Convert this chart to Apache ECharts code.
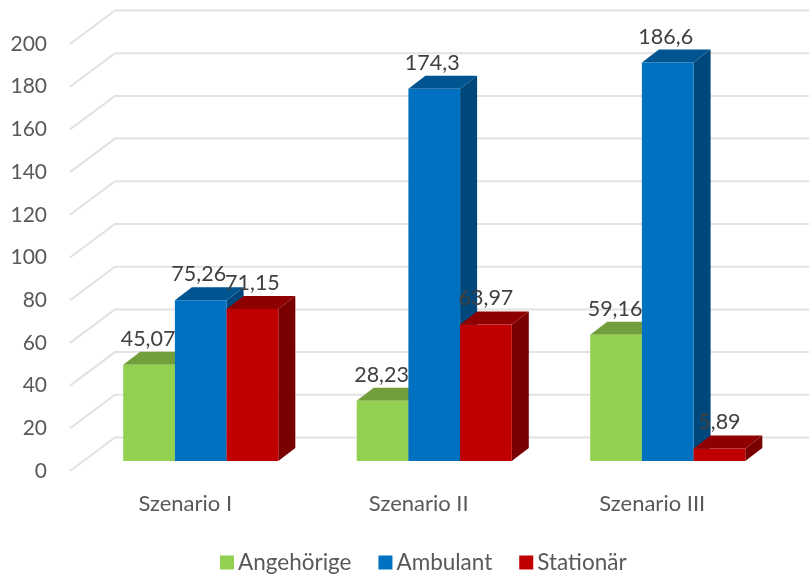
<!DOCTYPE html>
<html><head><meta charset="utf-8">
<style>html,body{margin:0;padding:0;background:#fff}#c{width:809px;height:575px}</style>
<script src="https://cdn.jsdelivr.net/npm/echarts@6/dist/echarts.min.js"></script>
</head><body><div id="c"></div>
<script>
const categories = ['Szenario I', 'Szenario II', 'Szenario III'];
const angehoerige = [45.07, 28.23, 59.16];
const ambulant = [75.26, 174.3, 186.6];
const stationaer = [71.15, 63.97, 5.89];
const gridTicks = [0, 20, 40, 60, 80, 100, 120, 140, 160, 180, 200];

const FONT = 'Lato';
const DX = 17, DY = 13, BAR = 0.2214;
const labelShift = [-1, -2, 0];

function barSeries(name, values, idx, front, top, side) {
  return {
    type: 'custom', name, z: 3 + idx,
    itemStyle: { color: front },
    data: values.map((v, i) => [i, v]),
    renderItem(params, api) {
      const base = api.coord([api.value(0), 0]);
      const head = api.coord([api.value(0), api.value(1)]);
      const w = api.size([1, 0])[0] * BAR;
      const x = base[0] + (idx - 1.5) * w, x2 = x + w;
      const y0 = base[1], y1 = head[1];
      return {
        type: 'group',
        children: [
          { type: 'polygon', shape: { points: [[x2, y1], [x2 + DX, y1 - DY], [x2 + DX, y0 - DY], [x2, y0]] }, style: { fill: side } },
          { type: 'polygon', shape: { points: [[x, y1], [x + DX, y1 - DY], [x2 + DX, y1 - DY], [x2, y1]] }, style: { fill: top } },
          { type: 'rect', shape: { x, y: y1, width: w, height: y0 - y1 }, style: { fill: front } },
          { type: 'text', z2: 100, style: {
              x: x + w / 2 + labelShift[idx], y: y1 - 26,
              text: String(api.value(1)).replace('.', ','),
              fill: '#404040', font: '21.5px ' + FONT, align: 'center', verticalAlign: 'middle' } }
        ]
      };
    }
  };
}

const chart = echarts.init(document.getElementById('c'), null, { renderer: 'canvas' });
chart.setOption({
  animation: false,
  backgroundColor: '#fff',
  textStyle: { fontFamily: FONT },
  grid: { left: 84, right: 24.5, top: 34, height: 427, containLabel: false },
  legend: {
    data: ['Angehörige', 'Ambulant', 'Stationär'],
    left: 215, top: 546, icon: 'rect', itemWidth: 14, itemHeight: 14, itemGap: 27,
    textStyle: { color: '#595959', fontSize: 22.5, fontFamily: FONT, padding: [0, 0, 0, -1] }
  },
  xAxis: {
    type: 'category', data: categories,
    axisLine: { show: false }, axisTick: { show: false },
    axisLabel: { color: '#595959', fontSize: 22, fontFamily: FONT, margin: 32, padding: [0, 31, 0, 0] }
  },
  yAxis: {
    type: 'value', min: 0, max: 200, interval: 20,
    axisLine: { show: false }, axisTick: { show: false }, splitLine: { show: false },
    axisLabel: { color: '#595959', fontSize: 21, fontFamily: FONT, margin: 37, verticalAlign: 'top', lineHeight: 20 }
  },
  series: [
    {
      type: 'custom', name: 'grid', silent: true, z: 1,
      data: gridTicks.map(v => [0, v]),
      renderItem(params, api) {
        const y = api.coord([0, api.value(1)])[1];
        return { type: 'polyline',
          shape: { points: [[70, y + 10], [115, y - 23.5], [809, y - 23.5]] },
          style: { stroke: '#E2E2E2', lineWidth: 2, fill: null } };
      }
    },
    barSeries('Angehörige', angehoerige, 0, '#92D050', '#739E3C', '#6F9F38'),
    barSeries('Ambulant', ambulant, 1, '#0070C0', '#00548F', '#00487C'),
    barSeries('Stationär', stationaer, 2, '#C00000', '#8F0000', '#780000')
  ]
});
</script></body></html>
